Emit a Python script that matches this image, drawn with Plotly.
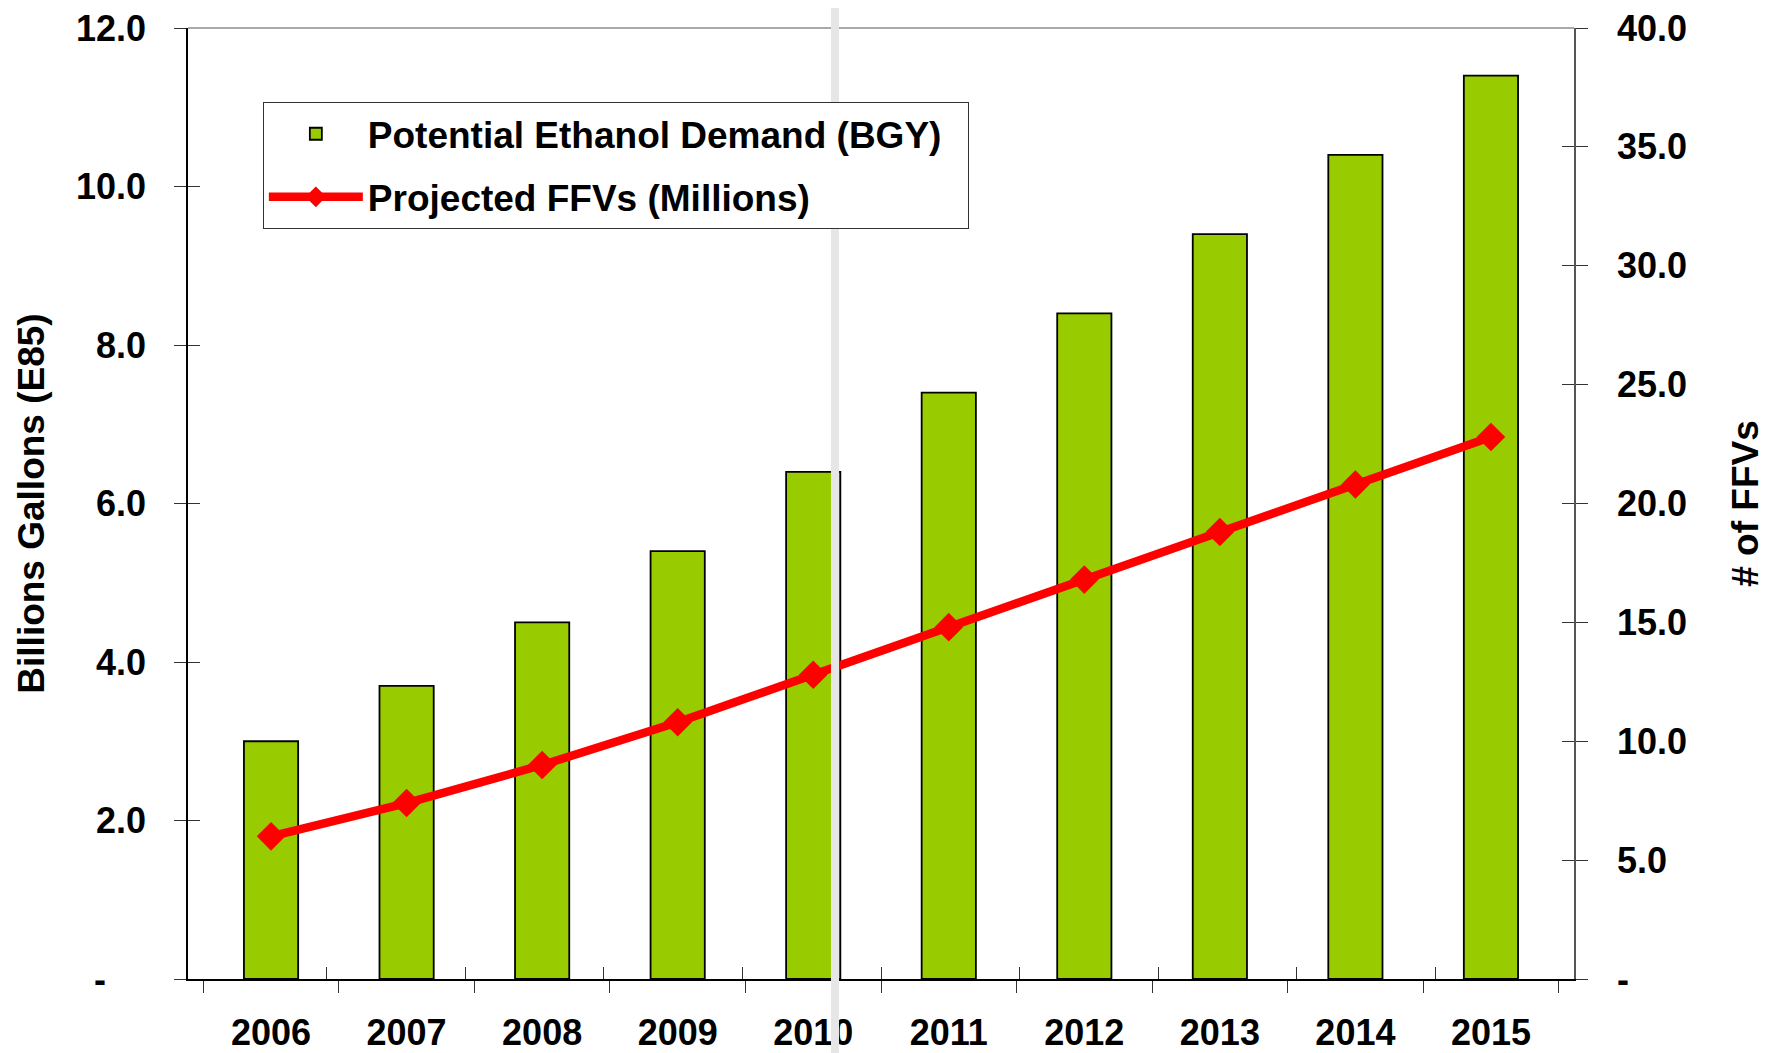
"""Potential ethanol demand vs projected FFVs, 2006-2015."""

import plotly.graph_objects as go

# Data.
years = ["2006", "2007", "2008", "2009", "2010",
         "2011", "2012", "2013", "2014", "2015"]
ethanol_demand_bgy = [3.0, 3.7, 4.5, 5.4, 6.4, 7.4, 8.4, 9.4, 10.4, 11.4]
projected_ffvs_m = [6.0, 7.4, 9.0, 10.8, 12.8, 14.8, 16.8, 18.8, 20.8, 22.8]

left_ticks = [0, 2, 4, 6, 8, 10, 12]
left_labels = ["-" + "\u00a0" * 4, "2.0", "4.0", "6.0", "8.0", "10.0", "12.0"]
right_ticks = [0, 5, 10, 15, 20, 25, 30, 35, 40]
right_labels = ["-", "5.0", "10.0", "15.0", "20.0", "25.0", "30.0", "35.0", "40.0"]

# Styling
_BAR_COLOR = "#99cc00"
_LINE_COLOR = "#ff0000"
_FONT = "Liberation Sans, Arial, sans-serif"
_FS = 36

fig = go.Figure()

fig.add_trace(
    go.Bar(
        x=years,
        y=ethanol_demand_bgy,
        name="Potential Ethanol Demand (BGY)\u00a0\u00a0",
        marker={"color": _BAR_COLOR, "line": {"color": "#000000", "width": 1.8}},
        width=0.4,
        legendgroup="a",
        yaxis="y",
    )
)

fig.add_trace(
    go.Scatter(
        x=years,
        y=projected_ffvs_m,
        name="Projected FFVs (Millions)",
        mode="lines+markers",
        line={"color": _LINE_COLOR, "width": 8.5},
        marker={"symbol": "diamond", "size": 22, "color": _LINE_COLOR},
        legendgroup="b",
        yaxis="y2",
    )
)

tick_common = {"ticklen": 12, "tickwidth": 1.2, "tickcolor": "#333333"}

# The page body has an 8px margin, so the figure is sized to fit the window.
fig.update_layout(
    width=1771,
    height=1045,
    margin={"l": 180, "r": 205, "t": 20, "b": 74, "autoexpand": False},
    plot_bgcolor="white",
    paper_bgcolor="white",
    font={"family": _FONT, "size": _FS, "color": "#000000", "weight": "bold"},
    showlegend=True,
    legend={
        "x": 0.054, "y": 0.922, "xanchor": "left", "yanchor": "top",
        "bgcolor": "white", "bordercolor": "#333333", "borderwidth": 1,
        "font": {"size": 37, "family": _FONT, "weight": "bold"},
        "tracegroupgap": 12, "traceorder": "grouped", "itemwidth": 94,
    },
    xaxis={
        "type": "category",
        "showline": True, "linecolor": "#000000", "linewidth": 1.5,
        "ticks": "outside", "tickson": "boundaries", **tick_common,
        "ticklabelstandoff": 21,
        "showgrid": False, "zeroline": False, "automargin": False,
    },
    xaxis2={
        "overlaying": "x", "anchor": "y", "side": "bottom",
        "range": [-0.5, 9.5], "tick0": -0.5, "dtick": 1,
        "ticks": "inside", **tick_common, "showticklabels": False,
        "showline": False, "showgrid": False, "zeroline": False,
    },
    yaxis={
        "range": [0, 12],
        "tickvals": left_ticks, "ticktext": left_labels,
        "ticklabeloverflow": "allow",
        "showline": True, "linecolor": "#000000", "linewidth": 1.5,
        "ticks": "outside", **tick_common, "ticklabelstandoff": 21,
        "showgrid": False, "zeroline": False, "automargin": False,
        "title": {"text": "Billions Gallons (E85)", "standoff": 20,
                  "font": {"size": 37}},
    },
    yaxis3={
        "overlaying": "y", "side": "left", "anchor": "x",
        "range": [0, 12], "tickvals": left_ticks,
        "ticks": "inside", **tick_common, "showticklabels": False,
        "showline": False, "showgrid": False, "zeroline": False,
    },
    yaxis2={
        "overlaying": "y", "side": "right", "anchor": "x",
        "range": [0, 40],
        "tickvals": right_ticks, "ticktext": right_labels,
        "ticklabeloverflow": "allow",
        "showline": True, "linecolor": "#555555", "linewidth": 1.5,
        "ticks": "outside", **tick_common, "ticklabelstandoff": 22,
        "showgrid": False, "zeroline": False, "automargin": False,
        "title": {"text": "# of FFVs", "standoff": 46, "font": {"size": 37}},
    },
    yaxis4={
        "overlaying": "y", "side": "right", "anchor": "x",
        "range": [0, 40], "tickvals": right_ticks,
        "ticks": "inside", **tick_common, "showticklabels": False,
        "showline": False, "showgrid": False, "zeroline": False,
    },
)

# Invisible helpers so the overlay tick axes get drawn.
fig.add_trace(go.Scatter(x=[None], y=[None], xaxis="x2", yaxis="y3",
                         showlegend=False, hoverinfo="skip"))
fig.add_trace(go.Scatter(x=[None], y=[None], xaxis="x", yaxis="y4",
                         showlegend=False, hoverinfo="skip"))

# Grey top border of the plot frame.
fig.add_shape(type="line", xref="paper", yref="paper", x0=0, x1=1, y0=1, y1=1,
              line={"color": "#8c8c8c", "width": 1.5})

# Light grey vertical band crossing the whole picture.
fig.add_shape(type="rect", xref="paper", yref="paper",
              x0=0.4639, x1=0.4697, y0=-0.09, y1=1.03,
              fillcolor="#e6e6e6", line={"width": 0}, layer="above")

fig.write_html("out.html")
